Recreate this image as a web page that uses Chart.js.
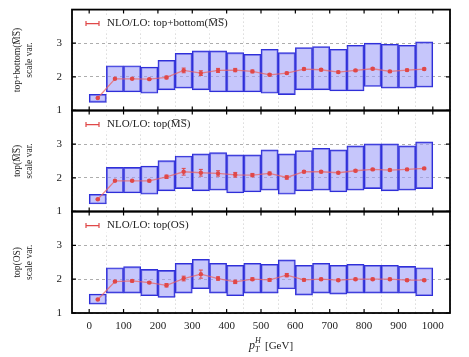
<!DOCTYPE html>
<html>
<head>
<meta charset="utf-8">
<script src="https://cdn.jsdelivr.net/npm/chart.js@4.4.0/dist/chart.umd.min.js"></script>
<style>
  body { margin: 0; background: #fff; }
  #wrap { position: relative; width: 469px; height: 357px; overflow: hidden; }
  canvas { position: absolute; left: 0; }
</style>
</head>
<body>
<div id="wrap">
  <canvas id="p1" width="469" height="122" style="top:0px"></canvas>
  <canvas id="p2" width="469" height="122" style="top:101px"></canvas>
  <canvas id="p3" width="469" height="155" style="top:202px"></canvas>
</div>
<script>
// bin centres (pT^H bins of 50 GeV)
const binCenters = [25, 75, 125, 175, 225, 275, 325, 375, 425, 475, 525, 575, 625, 675, 725, 775, 825, 875, 925, 975];
const xTicks = [0, 100, 200, 300, 400, 500, 600, 700, 800, 900, 1000];
const yTicks = [1, 2, 3];

// top+bottom (MSbar)
const central1 = [1.37, 1.94, 1.94, 1.93, 1.98, 2.19, 2.11, 2.19, 2.20, 2.16, 2.06, 2.11, 2.23, 2.21, 2.14, 2.19, 2.24, 2.16, 2.20, 2.23];
const low1 = [1.24, 1.55, 1.55, 1.51, 1.61, 1.66, 1.61, 1.55, 1.55, 1.55, 1.51, 1.47, 1.61, 1.61, 1.58, 1.58, 1.71, 1.66, 1.66, 1.69];
const high1 = [1.48, 2.33, 2.33, 2.29, 2.49, 2.70, 2.77, 2.77, 2.72, 2.67, 2.82, 2.72, 2.87, 2.90, 2.82, 2.94, 3.00, 2.97, 2.94, 3.04];
const err1 = [0.02, 0.02, 0.02, 0.02, 0.04, 0.07, 0.07, 0.06, 0.05, 0.04, 0.03, 0.03, 0.03, 0.03, 0.03, 0.03, 0.03, 0.03, 0.03, 0.03];

// top (MSbar)
const central2 = [1.36, 1.91, 1.91, 1.91, 2.03, 2.18, 2.15, 2.13, 2.09, 2.08, 2.13, 2.01, 2.18, 2.18, 2.15, 2.21, 2.25, 2.23, 2.25, 2.28];
const low2 = [1.22, 1.55, 1.55, 1.51, 1.61, 1.68, 1.61, 1.63, 1.55, 1.58, 1.63, 1.51, 1.61, 1.63, 1.58, 1.63, 1.68, 1.61, 1.63, 1.68];
const high2 = [1.51, 2.31, 2.31, 2.35, 2.51, 2.65, 2.71, 2.75, 2.68, 2.68, 2.83, 2.71, 2.81, 2.88, 2.83, 2.95, 3.01, 3.01, 2.95, 3.07];
const err2 = [0.02, 0.02, 0.02, 0.03, 0.05, 0.10, 0.10, 0.08, 0.07, 0.05, 0.04, 0.05, 0.03, 0.03, 0.03, 0.03, 0.03, 0.03, 0.03, 0.03];

// top (OS)
const central3 = [1.40, 1.93, 1.95, 1.90, 1.82, 2.02, 2.15, 2.02, 1.92, 2.00, 1.98, 2.12, 1.98, 2.00, 1.97, 2.00, 2.00, 2.00, 1.97, 1.97];
const low3 = [1.26, 1.59, 1.59, 1.51, 1.46, 1.59, 1.72, 1.59, 1.51, 1.59, 1.59, 1.71, 1.53, 1.59, 1.56, 1.59, 1.59, 1.59, 1.59, 1.51];
const high3 = [1.56, 2.34, 2.37, 2.29, 2.26, 2.47, 2.59, 2.47, 2.41, 2.47, 2.44, 2.57, 2.41, 2.47, 2.41, 2.44, 2.41, 2.41, 2.38, 2.34];
const err3 = [0.02, 0.03, 0.03, 0.03, 0.05, 0.07, 0.12, 0.05, 0.05, 0.04, 0.04, 0.05, 0.03, 0.03, 0.03, 0.03, 0.03, 0.03, 0.03, 0.03];

const FONT = "'Liberation Serif', 'DejaVu Serif', serif";
const RED = '#e04848';

// frame, inner ticks, error bars and the panel legend
const panelDeco = {
    id: 'panelDeco',
    afterDatasetsDraw(chart) {
        const ctx = chart.ctx;
        const x = chart.scales.x, y = chart.scales.y;
        const ds = chart.data.datasets[0];
        const errs = ds.errs;
        ctx.save();
        ctx.strokeStyle = RED;
        ctx.lineWidth = 1;
        ds.data.forEach((p, i) => {
            const px = x.getPixelForValue(p.x);
            const y0 = y.getPixelForValue(p.y - errs[i]);
            const y1 = y.getPixelForValue(p.y + errs[i]);
            ctx.beginPath();
            ctx.moveTo(px, y0); ctx.lineTo(px, y1);
            ctx.moveTo(px - 2, y0); ctx.lineTo(px + 2, y0);
            ctx.moveTo(px - 2, y1); ctx.lineTo(px + 2, y1);
            ctx.stroke();
        });
        ctx.restore();
    },
    afterDraw(chart) {
        const ctx = chart.ctx;
        const a = chart.chartArea;
        const x = chart.scales.x, y = chart.scales.y;
        ctx.save();
        // inner ticks
        ctx.strokeStyle = '#000';
        ctx.lineWidth = 1.2;
        ctx.beginPath();
        xTicks.forEach(v => {
            const px = x.getPixelForValue(v);
            ctx.moveTo(px, a.bottom); ctx.lineTo(px, a.bottom - 4);
            ctx.moveTo(px, a.top); ctx.lineTo(px, a.top + 4);
        });
        yTicks.forEach(v => {
            const py = y.getPixelForValue(v);
            ctx.moveTo(a.left, py); ctx.lineTo(a.left + 4, py);
            ctx.moveTo(a.right, py); ctx.lineTo(a.right - 4, py);
        });
        ctx.stroke();
        // frame
        ctx.lineWidth = 1.8;
        ctx.strokeRect(a.left, a.top, a.right - a.left, a.bottom - a.top);

        // legend
        const label = chart.data.datasets[0].label;
        const lx = a.left + 14, ly = a.top + 14;
        ctx.font = '11px ' + FONT;
        const tw = ctx.measureText(label).width;
        ctx.fillStyle = '#fff';
        ctx.fillRect(lx - 3, ly - 7, tw + 26, 14);
        ctx.strokeStyle = RED;
        ctx.lineWidth = 1.2;
        ctx.beginPath();
        ctx.moveTo(lx, ly); ctx.lineTo(lx + 13, ly);
        ctx.moveTo(lx, ly - 2.5); ctx.lineTo(lx, ly + 2.5);
        ctx.moveTo(lx + 13, ly - 2.5); ctx.lineTo(lx + 13, ly + 2.5);
        ctx.stroke();
        ctx.fillStyle = '#222';
        ctx.textBaseline = 'middle';
        ctx.fillText(label, lx + 21, ly);

        // x title on bottom panel
        if (chart.options.plugins.panelDeco.xTitle) {
            const cx = (a.left + a.right) / 2 - 12;
            const ty = a.bottom + 33;
            ctx.font = 'italic 12px ' + FONT;
            ctx.fillText('p', cx, ty);
            const pw = ctx.measureText('p').width;
            ctx.font = 'italic 8px ' + FONT;
            ctx.fillText('T', cx + pw, ty + 4);
            ctx.fillText('H', cx + pw, ty - 5);
            ctx.font = '11px ' + FONT;
            ctx.fillText('[GeV]', cx + pw + 10, ty);
        }
        ctx.restore();
    }
};

function makePanel(id, label, yTitle, central, low, high, err, bottom) {
    const points = binCenters.map((c, i) => ({ x: c, y: central[i] }));
    const boxes = binCenters.map((c, i) => ({ x: c, y: [low[i], high[i]] }));
    return new Chart(document.getElementById(id), {
        type: 'bar',
        data: {
            datasets: [{
                type: 'line',
                label: label,
                data: points,
                errs: err,
                borderColor: 'rgba(235, 100, 100, 0.75)',
                borderWidth: 1.3,
                pointRadius: 2.2,
                pointBackgroundColor: RED,
                pointBorderWidth: 0,
                order: 1
            }, {
                type: 'bar',
                label: 'scale var.',
                data: boxes,
                backgroundColor: 'rgba(160, 160, 248, 0.6)',
                borderColor: '#2f2fd8',
                borderWidth: 1.2,
                borderSkipped: false,
                barPercentage: 1,
                categoryPercentage: 1,
                order: 2
            }]
        },
        options: {
            responsive: false,
            maintainAspectRatio: false,
            animation: false,
            layout: { padding: { top: 3, bottom: bottom ? 0 : 4, left: 0, right: 19 } },
            plugins: {
                legend: { display: false },
                tooltip: { enabled: false },
                panelDeco: { xTitle: bottom }
            },
            scales: {
                x: {
                    type: 'linear',
                    min: 0,
                    max: 1000,
                    afterBuildTicks: s => { s.ticks = xTicks.map(v => ({ value: v })); },
                    ticks: {
                        display: bottom,
                        padding: 7,
                        color: '#222',
                        font: { family: FONT, size: 11 },
                        callback: v => String(v)
                    },
                    grid: { color: '#bbb', lineWidth: 0.8, drawTicks: false },
                    border: { display: false, dash: [1, 3] },
                    afterFit: s => { s.height = bottom ? 44 : 0; }
                },
                y: {
                    min: 1,
                    max: 4,
                    afterBuildTicks: s => { s.ticks = [1, 2, 3, 4].map(v => ({ value: v })); },
                    ticks: {
                        padding: 10,
                        color: '#222',
                        font: { family: FONT, size: 11 },
                        callback: v => (yTicks.includes(v) ? String(v) : '')
                    },
                    grid: { color: '#999', lineWidth: 0.8, drawTicks: false },
                    border: { display: false, dash: [3, 3] },
                    title: {
                        display: true,
                        text: [yTitle, 'scale var.'],
                        color: '#222',
                        font: { family: FONT, size: 9.5 },
                        padding: { top: 12, bottom: 0 }
                    },
                    afterFit: s => { s.width = 72; }
                }
            }
        },
        plugins: [panelDeco]
    });
}

// size each canvas so its plot frame lands on the panel rows
function placePanel(chart, top, bottom) {
    let a = chart.chartArea;
    const extra = chart.height - (a.bottom - a.top);
    chart.resize(469, Math.round(bottom - top + extra));
    a = chart.chartArea;
    chart.canvas.style.top = Math.round(top - a.top) + 'px';
}

const c1 = makePanel('p1', 'NLO/LO: top+bottom(M\u0305S\u0305)', 'top+bottom(M\u0305S\u0305)', central1, low1, high1, err1, false);
const c2 = makePanel('p2', 'NLO/LO: top(M\u0305S\u0305)', 'top(M\u0305S\u0305)', central2, low2, high2, err2, false);
const c3 = makePanel('p3', 'NLO/LO: top(OS)', 'top(OS)', central3, low3, high3, err3, true);
placePanel(c1, 10, 111);
placePanel(c2, 111, 212);
placePanel(c3, 212, 313);
</script>
</body>
</html>
